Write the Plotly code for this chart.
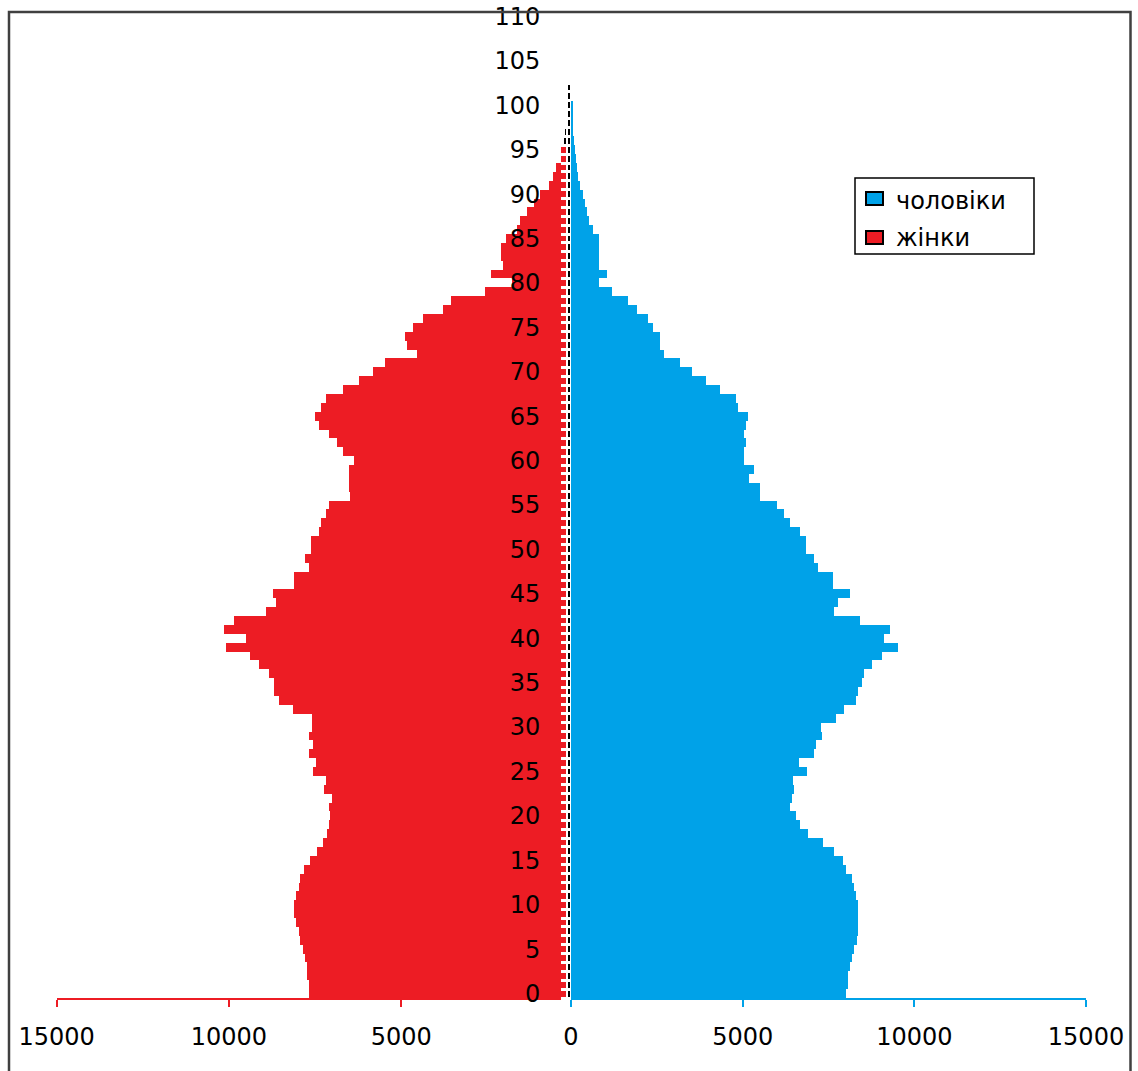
import plotly.graph_objects as go

# ---- data ----
ages = list(range(0, 101))

women = [
    7700, 7700, 7750, 7750, 7800, 7850, 7940, 7990, 8070, 8110,
    8110, 8060, 7990, 7940, 7820, 7650, 7460, 7290, 7170, 7100,
    7070, 7120, 7020, 7250, 7190, 7560, 7490, 7700, 7560, 7700,
    7590, 7590, 8160, 8560, 8700, 8700, 8860, 9150, 9400, 10090,
    9520, 10150, 9850, 8930, 8640, 8740, 8110, 8110, 7700, 7800,
    7630, 7630, 7410, 7340, 7190, 7120, 6490, 6540, 6540, 6540,
    6370, 6700, 6880, 7120, 7410, 7510, 7340, 7190, 6700, 6230,
    5830, 5470, 4550, 4840, 4890, 4670, 4380, 3800, 3560, 2570,
    1810, 2400, 2060, 2110, 2110, 1980, 1660, 1550, 1350, 1160,
    970, 720, 610, 530, 370, 360, 300, 260, 240, 230,
    0,
]

men = [
    8010, 8080, 8080, 8140, 8190, 8240, 8320, 8370, 8370, 8370,
    8370, 8300, 8240, 8190, 8010, 7910, 7670, 7330, 6910, 6670,
    6550, 6380, 6450, 6500, 6460, 6860, 6630, 7090, 7130, 7310,
    7270, 7720, 7960, 8300, 8370, 8470, 8530, 8770, 9070, 9530,
    9120, 9290, 8420, 7670, 7770, 8130, 7620, 7620, 7200, 7090,
    6840, 6840, 6670, 6380, 6210, 5990, 5500, 5500, 5180, 5330,
    5050, 5050, 5100, 5050, 5100, 5160, 4870, 4810, 4340, 3930,
    3530, 3170, 2720, 2590, 2590, 2380, 2250, 1910, 1670, 1200,
    820, 1040, 820, 820, 820, 820, 650, 530, 460, 410,
    340, 260, 210, 170, 140, 110, 80, 70, 60, 50,
    40,
]

y_tick_vals = [0, 5, 10, 15, 20, 25, 30, 35, 40, 45, 50, 55,
               60, 65, 70, 75, 80, 85, 90, 95, 100, 105, 110]
y_tick_text = [str(v) for v in y_tick_vals]
x_tick_vals = [0, 5000, 10000, 15000]
x_tick_text_women = ["", "5000", "10000", "15000"]
x_tick_text_men = ["0", "5000", "10000", "15000"]
name_men = "чоловіки"
name_women = "жінки"

# ---- styling ----
RED = "#ED1C24"
BLUE = "#00A2E8"
FONT = "DejaVu Sans"
W, H = 1138, 1071
OX, OY = 0, 0


def px(X):
    return (X - OX) / W


def py(Y):
    return 1 - (Y - OY) / H


# women's axis: 0 sits at x=573.5 px (hidden behind the men's panel),
# visible panel ends at 566 px
w_zero_px, w_15k_px, w_end_px = 573.5, 56.6, 566.0
w_right = 15000 * (w_zero_px - w_end_px) / (w_zero_px - w_15k_px)

women_colors = [RED if a < 96 else "black" for a in ages]

fig = go.Figure()
fig.add_trace(go.Bar(
    x=women, y=ages, orientation="h", name=name_women, width=1,
    marker=dict(color=women_colors, line=dict(width=0)),
    xaxis="x", yaxis="y", showlegend=False, hoverinfo="x+y",
))
fig.add_trace(go.Bar(
    x=men, y=ages, orientation="h", name=name_men, width=1,
    marker=dict(color=BLUE, line=dict(width=0)),
    xaxis="x2", yaxis="y", showlegend=False, hoverinfo="x+y",
))

common_x = dict(showgrid=False, zeroline=False, showline=True, linewidth=1.5,
                ticks="outside", ticklen=7, tickwidth=1.5, tickvals=x_tick_vals,
                tickfont=dict(family=FONT, size=24, color="black"),
                ticklabelstandoff=9, anchor="y", fixedrange=True, automargin=False,
                ticklabeloverflow="allow")

fig.update_layout(
    template="none",
    width=W, height=H, autosize=False,
    margin=dict(l=0, r=0, t=0, b=0, pad=0),
    paper_bgcolor="white", plot_bgcolor="rgba(0,0,0,0)",
    barmode="overlay", bargap=0, showlegend=False,
    font=dict(family=FONT, size=24, color="black"),
    xaxis=dict(domain=[px(w_15k_px), px(w_end_px)], range=[15000, -w_right * -1],
               linecolor=RED, tickcolor=RED, ticktext=x_tick_text_women, **common_x),
    xaxis2=dict(domain=[px(571), px(1086)], range=[0, 15000],
                linecolor=BLUE, tickcolor=BLUE, ticktext=x_tick_text_men, **common_x),
    yaxis=dict(domain=[py(998), py(12)], range=[-0.5, 110.5], anchor="free",
               position=px(571), showline=False, showgrid=False, zeroline=False,
               ticks="outside", ticklen=0, tickvals=y_tick_vals, ticktext=y_tick_text,
               tickfont=dict(family=FONT, size=24, color="black"),
               ticklabelstandoff=26, fixedrange=True, automargin=False,
               ticklabeloverflow="allow",
               minor=dict(ticks="outside", tick0=0.5, dtick=1, ticklen=10,
                          tickcolor="white", tickwidth=2.5, showgrid=False)),
)

shapes = []
# outer frame
shapes.append(dict(type="rect", xref="paper", yref="paper",
                   x0=px(9), x1=px(1130.5), y0=py(1090), y1=py(12),
                   line=dict(color="#404040", width=2.5), layer="above"))
# central vertical axis line
shapes.append(dict(type="line", xref="paper", yref="y",
                   x0=px(569), x1=px(569), y0=-0.5, y1=102.5,
                   line=dict(color="black", width=2), layer="below"))
# legend box
shapes.append(dict(type="rect", xref="paper", yref="paper",
                   x0=px(855), x1=px(1034), y0=py(254), y1=py(178),
                   line=dict(color="black", width=1.5), fillcolor="white", layer="above"))
shapes.append(dict(type="rect", xref="paper", yref="paper",
                   x0=px(866), x1=px(883), y0=py(205), y1=py(192),
                   line=dict(color="black", width=2), fillcolor=BLUE, layer="above"))
shapes.append(dict(type="rect", xref="paper", yref="paper",
                   x0=px(866), x1=px(883), y0=py(244), y1=py(231),
                   line=dict(color="black", width=2), fillcolor=RED, layer="above"))
fig.update_layout(shapes=shapes)

fig.add_annotation(x=px(894), y=py(201), xref="paper", yref="paper",
                   text=name_men, showarrow=False, xanchor="left", yanchor="middle",
                   font=dict(family=FONT, size=24, color="black"))
fig.add_annotation(x=px(894), y=py(238), xref="paper", yref="paper",
                   text=name_women, showarrow=False, xanchor="left", yanchor="middle",
                   font=dict(family=FONT, size=24, color="black"))

fig.write_html(
    "out.html",
    config={"displayModeBar": False},
    post_script="document.body.style.margin='0';document.body.style.overflow='hidden';",
)
